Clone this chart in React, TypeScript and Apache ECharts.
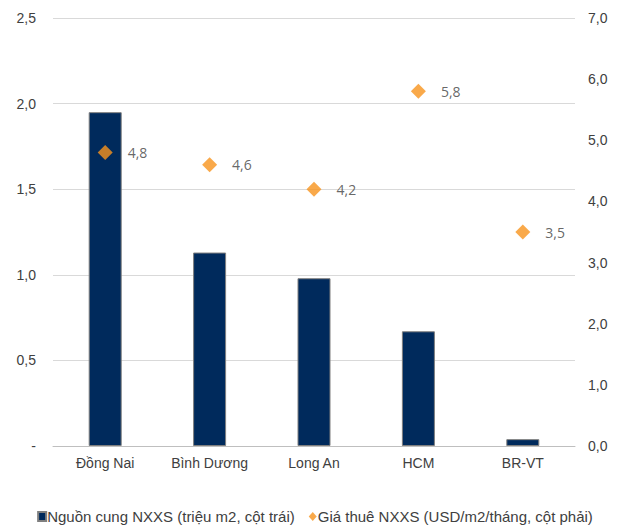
import React, { useEffect, useRef } from "react";
import * as echarts from "echarts";

const categories = ["Đồng Nai", "Bình Dương", "Long An", "HCM", "BR-VT"];
const supply = [1.95, 1.13, 0.98, 0.67, 0.04];
const rent = [4.8, 4.6, 4.2, 5.8, 3.5];
const supplyName = "Nguồn cung NXXS (triệu m2, cột trái)";
const rentName = "Giá thuê NXXS (USD/m2/tháng, cột phải)";

const fmtComma = (v: number) => v.toFixed(1).replace(".", ",");

export default function App() {
  const ref = useRef<HTMLDivElement>(null);
  useEffect(() => {
    if (!ref.current) return;
    const chart = echarts.init(ref.current, undefined, { renderer: "svg" });
    const font = "'Liberation Sans', Arial, sans-serif";
    chart.setOption({
      animation: false,
      textStyle: { fontFamily: font },
      grid: { left: 45, right: 47, top: 10, bottom: 82 },
      legend: {
        bottom: -1,
        left: "center",
        itemGap: 14,
        itemWidth: 8,
        itemHeight: 9,
        textStyle: { fontSize: 15, color: "#404040", fontFamily: font, padding: [0, 0, 0, -4] },
        data: [
          { name: supplyName, icon: "rect" },
          { name: rentName, icon: "diamond", itemStyle: { color: "#f7941d" } },
        ],
      },
      xAxis: {
        type: "category",
        data: categories,
        axisLine: { lineStyle: { color: "#bfbfbf", width: 1 } },
        axisTick: { show: false },
        axisLabel: { fontSize: 14, color: "#404040", margin: 10, fontFamily: font },
      },
      yAxis: [
        {
          type: "value",
          min: 0,
          max: 2.5,
          interval: 0.5,
          axisLine: { show: false },
          axisTick: { show: false },
          axisLabel: {
            fontSize: 14,
            color: "#404040",
            margin: 17,
            fontFamily: font,
            formatter: (v: number) => (v === 0 ? "-" : fmtComma(v)),
          },
          splitLine: { lineStyle: { color: "#d9d9d9", width: 1 } },
        },
        {
          type: "value",
          min: 0,
          max: 7,
          interval: 1,
          axisLine: { show: false },
          axisTick: { show: false },
          axisLabel: {
            fontSize: 14,
            color: "#404040",
            margin: 13,
            fontFamily: font,
            formatter: (v: number) => fmtComma(v),
          },
          splitLine: { show: false },
        },
      ],
      series: [
        {
          name: supplyName,
          type: "bar",
          data: supply,
          barWidth: 33,
          itemStyle: { color: "#002a5c", borderColor: "#7f7f7f", borderWidth: 1 },
        },
        {
          name: rentName,
          type: "scatter",
          yAxisIndex: 1,
          data: rent,
          symbol: "diamond",
          symbolSize: [15, 15],
          itemStyle: { color: "#f7941d" },
          label: {
            show: true,
            position: "right",
            distance: 15,
            fontSize: 14,
            color: "#404040",
            fontFamily: "'Open Sans', sans-serif",
            formatter: (p: any) => fmtComma(p.value),
          },
        },
      ],
    });
    return () => chart.dispose();
  }, []);
  return <div ref={ref} style={{ width: 614, height: 520 }} />;
}
